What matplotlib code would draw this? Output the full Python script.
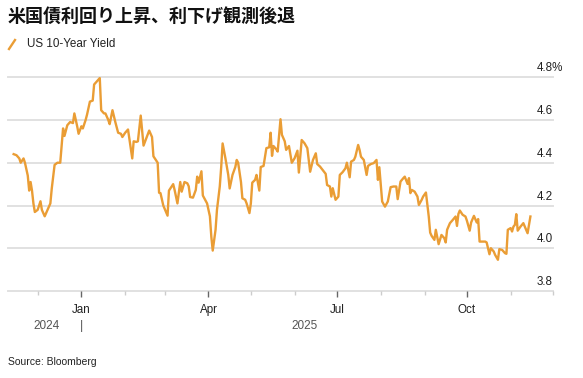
import matplotlib
matplotlib.use("Agg")
import matplotlib.pyplot as plt
import matplotlib.dates as mdates
from matplotlib.lines import Line2D
import pandas as pd

# US 10-year yield
dates = [
    "2024-11-14", "2024-11-16", "2024-11-18", "2024-11-19", "2024-11-21", "2024-11-22",
    "2024-11-24", "2024-11-25", "2024-11-26", "2024-11-27", "2024-11-28", "2024-11-29",
    "2024-12-01", "2024-12-03", "2024-12-04", "2024-12-06", "2024-12-08", "2024-12-10",
    "2024-12-11", "2024-12-13", "2024-12-15", "2024-12-17", "2024-12-19", "2024-12-20",
    "2024-12-22", "2024-12-24", "2024-12-26", "2024-12-27", "2024-12-29", "2024-12-30",
    "2025-01-01", "2025-01-02", "2025-01-04", "2025-01-05", "2025-01-07", "2025-01-09",
    "2025-01-10", "2025-01-12", "2025-01-14", "2025-01-15", "2025-01-17", "2025-01-18",
    "2025-01-20", "2025-01-21", "2025-01-23", "2025-01-25", "2025-01-27", "2025-01-29",
    "2025-01-30", "2025-02-01", "2025-02-03", "2025-02-06", "2025-02-07", "2025-02-09",
    "2025-02-10", "2025-02-12", "2025-02-14", "2025-02-16", "2025-02-18", "2025-02-20",
    "2025-02-21", "2025-02-24", "2025-02-25", "2025-02-26", "2025-02-28", "2025-03-03",
    "2025-03-04", "2025-03-05", "2025-03-07", "2025-03-08", "2025-03-10", "2025-03-12",
    "2025-03-13", "2025-03-15", "2025-03-17", "2025-03-18", "2025-03-19", "2025-03-21",
    "2025-03-23", "2025-03-24", "2025-03-25", "2025-03-27", "2025-03-28", "2025-03-31",
    "2025-04-02", "2025-04-03", "2025-04-04", "2025-04-06", "2025-04-07", "2025-04-09",
    "2025-04-10", "2025-04-11", "2025-04-13", "2025-04-15", "2025-04-16", "2025-04-18",
    "2025-04-20", "2025-04-21", "2025-04-22", "2025-04-24", "2025-04-25", "2025-04-27",
    "2025-04-28", "2025-04-30", "2025-05-01", "2025-05-02", "2025-05-04", "2025-05-05",
    "2025-05-07", "2025-05-08", "2025-05-10", "2025-05-11", "2025-05-12", "2025-05-14",
    "2025-05-15", "2025-05-16", "2025-05-17", "2025-05-19", "2025-05-20", "2025-05-22",
    "2025-05-23", "2025-05-25", "2025-05-26", "2025-05-28", "2025-05-30", "2025-06-01",
    "2025-06-03", "2025-06-04", "2025-06-06", "2025-06-08", "2025-06-10", "2025-06-12",
    "2025-06-14", "2025-06-16", "2025-06-17", "2025-06-19", "2025-06-23", "2025-06-24",
    "2025-06-26", "2025-06-27", "2025-06-28", "2025-06-30", "2025-07-02", "2025-07-03",
    "2025-07-05", "2025-07-07", "2025-07-08", "2025-07-10", "2025-07-11", "2025-07-13",
    "2025-07-14", "2025-07-16", "2025-07-17", "2025-07-18", "2025-07-20", "2025-07-22",
    "2025-07-23", "2025-07-25", "2025-07-27", "2025-07-29", "2025-07-30", "2025-07-31",
    "2025-08-02", "2025-08-04", "2025-08-06", "2025-08-08", "2025-08-10", "2025-08-12",
    "2025-08-13", "2025-08-15", "2025-08-17", "2025-08-18", "2025-08-20", "2025-08-21",
    "2025-08-22", "2025-08-23", "2025-08-25", "2025-08-27", "2025-08-28", "2025-08-30",
    "2025-08-31", "2025-09-02", "2025-09-04", "2025-09-05", "2025-09-06", "2025-09-08",
    "2025-09-09", "2025-09-11", "2025-09-13", "2025-09-15", "2025-09-16", "2025-09-17",
    "2025-09-19", "2025-09-21", "2025-09-23", "2025-09-24", "2025-09-25", "2025-09-26",
    "2025-09-28", "2025-09-30", "2025-10-01", "2025-10-03", "2025-10-04", "2025-10-06",
    "2025-10-08", "2025-10-09", "2025-10-10", "2025-10-12", "2025-10-14", "2025-10-15",
    "2025-10-17", "2025-10-18", "2025-10-20", "2025-10-21", "2025-10-23", "2025-10-24",
    "2025-10-26", "2025-10-28", "2025-10-29", "2025-10-30", "2025-11-01", "2025-11-02",
    "2025-11-03", "2025-11-04", "2025-11-05", "2025-11-06", "2025-11-08", "2025-11-10",
    "2025-11-13", "2025-11-15",
]
yields = [
    4.440, 4.435, 4.420, 4.400, 4.420, 4.400,
    4.340, 4.270, 4.310, 4.270, 4.210, 4.170,
    4.180, 4.220, 4.180, 4.150, 4.180, 4.210,
    4.280, 4.390, 4.400, 4.400, 4.560, 4.525,
    4.575, 4.590, 4.585, 4.630, 4.570, 4.535,
    4.570, 4.560, 4.600, 4.625, 4.685, 4.690,
    4.765, 4.780, 4.795, 4.645, 4.630, 4.630,
    4.600, 4.580, 4.645, 4.590, 4.540, 4.535,
    4.520, 4.540, 4.555, 4.420, 4.500, 4.497,
    4.500, 4.620, 4.480, 4.515, 4.550, 4.520,
    4.430, 4.400, 4.260, 4.258, 4.200, 4.153,
    4.270, 4.280, 4.300, 4.273, 4.210, 4.310,
    4.265, 4.310, 4.304, 4.290, 4.240, 4.237,
    4.273, 4.335, 4.307, 4.360, 4.247, 4.210,
    4.150, 4.055, 3.990, 4.087, 4.180, 4.290,
    4.380, 4.490, 4.420, 4.343, 4.280, 4.343,
    4.380, 4.413, 4.400, 4.310, 4.234, 4.227,
    4.210, 4.165, 4.210, 4.307, 4.320, 4.343,
    4.270, 4.380, 4.385, 4.428, 4.468, 4.472,
    4.540, 4.432, 4.478, 4.463, 4.452, 4.603,
    4.530, 4.500, 4.460, 4.478, 4.400, 4.421,
    4.456, 4.354, 4.506, 4.491, 4.468, 4.358,
    4.413, 4.444, 4.394, 4.382, 4.348, 4.296,
    4.289, 4.242, 4.281, 4.227, 4.242, 4.343,
    4.356, 4.374, 4.400, 4.332, 4.405, 4.413,
    4.428, 4.483, 4.460, 4.428, 4.413, 4.343,
    4.385, 4.394, 4.398, 4.413, 4.320, 4.379,
    4.219, 4.195, 4.219, 4.286, 4.289, 4.289,
    4.230, 4.312, 4.328, 4.335, 4.301, 4.328,
    4.258, 4.273, 4.265, 4.242, 4.203, 4.227,
    4.242, 4.261, 4.149, 4.074, 4.059, 4.040,
    4.087, 4.020, 4.063, 4.048, 4.028, 4.087,
    4.118, 4.133, 4.149, 4.105, 4.161, 4.177,
    4.157, 4.149, 4.130, 4.083, 4.121, 4.152,
    4.121, 4.137, 4.032, 4.032, 4.032, 4.028,
    3.973, 4.001, 3.986, 3.970, 3.947, 3.997,
    3.993, 3.978, 3.975, 4.087, 4.095, 4.079,
    4.102, 4.110, 4.160, 4.083, 4.102, 4.118,
    4.071, 4.149,
]

y_ticks = [3.8, 4.0, 4.2, 4.4, 4.6, 4.8]
y_labels = ["3.8", "4.0", "4.2", "4.4", "4.6", "4.8%"]
month_ticks = ["2025-01-01", "2025-04-01", "2025-07-01", "2025-10-01"]
month_labels = ["Jan", "Apr", "Jul", "Oct"]
year_labels = ["2024", "2025"]
year_centers = ["2024-12-07", "2025-06-08"]

ORANGE = "#ea9d35"
GRID = "#e1e1e1"
W, H = 583, 378

plt.rcParams["font.family"] = ["Liberation Sans", "DejaVu Sans"]

x = pd.to_datetime(dates)

fig = plt.figure(figsize=(W / 100, H / 100), dpi=100)
ax = fig.add_axes([8 / W, 1 - 291.3 / H, 545 / W, (291.3 - 77) / H])

for v, lab in zip(y_ticks, y_labels):
    ax.axhline(v, color=GRID, lw=1.4, zorder=0, clip_on=False)
    ax.text(0.9706, v + 0.014, lab, transform=ax.get_yaxis_transform(),
            ha="left", va="bottom", fontsize=8.4, color="#222222")

ax.plot(x, yields, color=ORANGE, lw=1.7, solid_joinstyle="round", zorder=3)

ax.set_ylim(3.8, 4.8)
ax.set_xlim(pd.Timestamp("2024-11-10"), pd.Timestamp("2025-12-01"))

for s in ax.spines.values():
    s.set_visible(False)
ax.set_yticks([])

ax.set_xticks(pd.to_datetime(month_ticks))
ax.set_xticklabels(month_labels)
ax.xaxis.set_minor_locator(mdates.MonthLocator())
ax.tick_params(axis="x", which="major", length=4.5, width=1, color="#666666",
               labelsize=8.4, labelcolor="#222222", pad=4.5)
ax.tick_params(axis="x", which="minor", length=3, width=1, color="#cccccc")

# year row under the month labels
xt = ax.get_xaxis_transform()
for lab, c in zip(year_labels, year_centers):
    ax.text(pd.Timestamp(c), -0.163, lab, transform=xt, ha="center", va="center",
            fontsize=8.5, color="#555555")
ax.text(pd.Timestamp("2025-01-01"), -0.163, "|", transform=xt, ha="center",
        va="center", fontsize=9, color="#555555")

# title, legend and source
fig.text(8 / W, 1 - 16 / H, "米国債利回り上昇、利下げ観測後退", fontsize=13,
         fontweight="bold", family=["Noto Sans CJK JP", "DejaVu Sans"],
         ha="left", va="center", color="#111111")
fig.add_artist(Line2D([9 / W, 15 / W], [1 - 49 / H, 1 - 40 / H], color=ORANGE, lw=1.7))
fig.text(27 / W, 1 - 44 / H, "US 10-Year Yield", fontsize=8.4, ha="left",
         va="center", color="#222222")
fig.text(8 / W, 1 - 362 / H, "Source: Bloomberg", fontsize=7.5, ha="left",
         va="center", color="#222222")

fig.savefig("out.png", dpi=100)
